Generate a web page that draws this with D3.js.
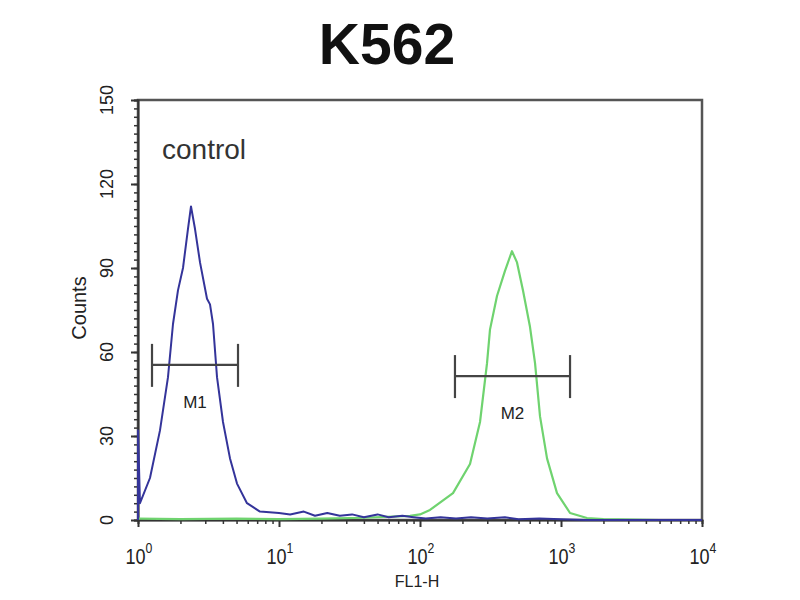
<!DOCTYPE html>
<html><head><meta charset="utf-8">
<script src="https://cdn.jsdelivr.net/npm/d3@7"></script>
<style>body{margin:0;background:#fff}svg{display:block}text{font-family:"Liberation Sans",Arial,sans-serif}</style>
</head><body><svg id="c" width="800" height="600"></svg>
<script>
// ---- data ----
const title = "K562";
const xLabel = "FL1-H";
const yLabel = "Counts";
const sampleLabel = "control";
const yTicks = [0, 30, 60, 90, 120, 150];
const xTickExps = [0, 1, 2, 3, 4];
// control histogram (blue): [FL1-H, counts]
const controlX = [1.0, 1.0, 1.033, 1.216, 1.432, 1.632, 1.771, 1.921, 2.085, 2.262, 2.376, 2.536, 2.753, 3.086, 3.241, 3.404, 3.634, 4.007, 4.493, 5.037, 5.93, 7.33, 10, 12, 15, 18, 22, 27, 33, 40, 50, 60, 75, 90, 110, 140, 180, 230, 300, 400, 500, 700, 1000, 1500, 3000, 10000];
const controlY = [0, 32, 6, 15, 32, 51, 70, 82, 90, 104, 112, 104, 92, 79, 77, 70, 51, 35, 22, 13, 6, 3, 2.5, 2, 3, 1.5, 2.5, 1.5, 2, 1, 2, 1, 1.5, 1, 0.5, 1, 0.5, 1, 0.5, 1, 0.3, 0.5, 0.3, 0, 0, 0];
// sample histogram (green)
const sampleX = [1.0, 2, 5, 10, 20, 40, 85, 100, 117.7, 171.4, 226.3, 266.5, 298.8, 313.6, 351.6, 400.6, 449, 487.5, 537.6, 602.6, 654.4, 709.9, 795.9, 937, 1159, 1528, 2000, 5000, 10000];
const sampleY = [0.5, 0.3, 0.5, 0.3, 0.5, 0.8, 1.5, 2, 3.6, 9.6, 20, 35, 56, 68, 80, 89, 96, 92, 82, 69, 56, 37, 22, 9.6, 2.5, 0.7, 0.3, 0, 0];
// markers
const markerNames = ["M1", "M2"];
const markerStart = [1.257, 177];
const markerEnd = [5.12, 1159];
const markerLevel = [55.4, 51.4];

// ---- chart ----
const svg = d3.select("#c");
const L = 138, R = 702, T = 100, B = 520;
const x = d3.scaleLog().domain([1, 10000]).range([L, R]);
const y = d3.scaleLinear().domain([0, 150]).range([B, T]);
const ink = "#222";

svg.append("text").attr("x", 387).attr("y", 64).attr("text-anchor", "middle")
  .attr("font-size", 57).attr("font-weight", "bold").attr("fill", "#111").text(title);

// frame
svg.append("rect").attr("x", L).attr("y", T).attr("width", R - L).attr("height", B - T)
  .attr("fill", "none").attr("stroke", "#555").attr("stroke-width", 2.5);

// y ticks
const gy = svg.append("g").attr("transform", `translate(${L},0)`)
  .call(d3.axisLeft(y).tickValues(d3.range(0, 151, 3)).tickSize(4).tickFormat(""));
gy.select(".domain").attr("stroke", "#333").attr("stroke-width", 2);
gy.selectAll(".tick line").attr("stroke", "#333").attr("stroke-width", 1.5);
const gyMaj = svg.append("g").attr("transform", `translate(${L},0)`)
  .call(d3.axisLeft(y).tickValues(yTicks).tickSize(7).tickFormat(""));
gyMaj.select(".domain").remove();
gyMaj.selectAll(".tick line").attr("stroke", "#333").attr("stroke-width", 2);
yTicks.forEach(v => {
  svg.append("text").attr("transform", `translate(113,${y(v)}) rotate(-90)`)
    .attr("text-anchor", "middle").attr("font-size", 18).attr("fill", ink).text(v);
});
svg.append("text").attr("transform", `translate(86,308) rotate(-90)`)
  .attr("text-anchor", "middle").attr("font-size", 20).attr("fill", ink).text(yLabel);

// x ticks
const minor = [];
for (let e = 0; e < 4; e++) for (let m = 2; m <= 9; m++) minor.push(m * Math.pow(10, e));
const gx = svg.append("g").attr("transform", `translate(0,${B})`)
  .call(d3.axisBottom(x).tickValues(minor).tickSize(4).tickFormat(""));
gx.select(".domain").attr("stroke", "#333").attr("stroke-width", 2);
gx.selectAll(".tick line").attr("stroke", "#333").attr("stroke-width", 1.5);
const gxMaj = svg.append("g").attr("transform", `translate(0,${B})`)
  .call(d3.axisBottom(x).tickValues(xTickExps.map(e => Math.pow(10, e))).tickSize(7).tickFormat(""));
gxMaj.select(".domain").remove();
gxMaj.selectAll(".tick line").attr("stroke", "#333").attr("stroke-width", 2);
xTickExps.forEach(e => {
  const t = svg.append("text")
    .attr("transform", `translate(${x(Math.pow(10, e)) + 1},564) scale(0.82,1)`)
    .attr("text-anchor", "middle").attr("font-size", 22).attr("fill", ink);
  t.append("tspan").text("10");
  t.append("tspan").attr("dy", -11).attr("font-size", 15).text(e);
});
svg.append("text").attr("x", 417).attr("y", 587).attr("text-anchor", "middle")
  .attr("font-size", 16).attr("fill", ink).text(xLabel);

svg.append("text").attr("x", 162).attr("y", 159).attr("font-size", 28).attr("fill", "#333").text(sampleLabel);

// curves
const line = d3.line().x(d => x(d[0])).y(d => y(d[1]));
svg.append("path").datum(sampleX.map((v, i) => [v, sampleY[i]]))
  .attr("d", line).attr("fill", "none").attr("stroke", "#6fd36f").attr("stroke-width", 2.2).attr("stroke-linejoin", "round");
svg.append("path").datum(controlX.map((v, i) => [v, controlY[i]]))
  .attr("d", line).attr("fill", "none").attr("stroke", "#34349a").attr("stroke-width", 2).attr("stroke-linejoin", "round");

// markers
markerNames.forEach((n, i) => {
  const g = svg.append("g").attr("stroke", "#444").attr("stroke-width", 2.2);
  const yy = y(markerLevel[i]);
  g.append("line").attr("x1", x(markerStart[i])).attr("x2", x(markerEnd[i])).attr("y1", yy).attr("y2", yy);
  g.append("line").attr("x1", x(markerStart[i])).attr("x2", x(markerStart[i])).attr("y1", yy - 21).attr("y2", yy + 22);
  g.append("line").attr("x1", x(markerEnd[i])).attr("x2", x(markerEnd[i])).attr("y1", yy - 21).attr("y2", yy + 22);
  svg.append("text").attr("x", (x(markerStart[i]) + x(markerEnd[i])) / 2).attr("y", yy + 43)
    .attr("text-anchor", "middle").attr("font-size", 17).attr("fill", ink).text(n);
});
</script></body></html>
